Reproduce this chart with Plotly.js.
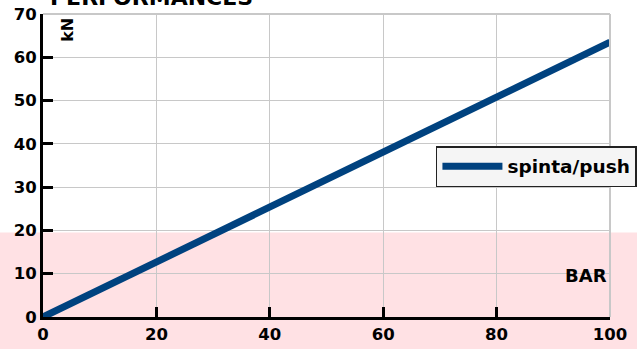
<!DOCTYPE html>
<html><head><meta charset="utf-8">
<script src="https://cdn.plot.ly/plotly-3.0.1.min.js"></script>
<style>html,body{margin:0;padding:0;background:#fff}#c{width:637px;height:349px}</style>
</head><body><div id="c"></div>
<script>
var pressureBar = [0, 100];
var thrustKN = [0, 63.5];
var seriesName = 'spinta/push';
var xTicks = [0, 20, 40, 60, 80, 100];
var yTicks = [0, 10, 20, 30, 40, 50, 60, 70];
var bandTopKN = 19.5;

var F = 'DejaVu Sans, Verdana, sans-serif';
function b(s) { return '<b>' + s + '</b>'; }
var trace = {x: pressureBar, y: thrustKN, mode: 'lines', name: b(seriesName),
  line: {color: '#00427f', width: 7}};
var yFrac = bandTopKN / 70;
var layout = {
  width: 637, height: 349,
  margin: {l: 43, r: 27, t: 14, b: 32, pad: 0, autoexpand: false},
  paper_bgcolor: '#ffffff', plot_bgcolor: 'rgba(0,0,0,0)',
  font: {family: F, color: '#000', size: 16},
  showlegend: true,
  legend: {x: 0.693, y: 0.564, xanchor: 'left', yanchor: 'top', bgcolor: '#f5f5f5',
    bordercolor: '#222', borderwidth: 1.5, itemwidth: 60,
    font: {family: F, size: 18.5, color: '#000'}},
  xaxis: {range: [0, 100], tickvals: xTicks, ticktext: xTicks.map(function (v) { return b(v); }), showgrid: true,
    gridcolor: '#c8c8c8', gridwidth: 1, zeroline: false, showline: true, linecolor: '#000', linewidth: 3,
    ticks: 'inside', ticklen: 10, tickwidth: 3, tickcolor: '#000', automargin: false,
    tickfont: {family: F, size: 16.5, color: '#000'}},
  yaxis: {range: [0, 70], tickvals: yTicks, ticktext: yTicks.map(function (v) { return b(v); }), showgrid: true,
    gridcolor: '#c8c8c8', gridwidth: 1, zeroline: false, showline: true, linecolor: '#000', linewidth: 3,
    ticks: 'inside', ticklen: 10, tickwidth: 3, tickcolor: '#000', automargin: false,
    tickfont: {family: F, size: 16.5, color: '#000'}},
  shapes: [
    {type: 'rect', xref: 'paper', yref: 'paper', x0: -0.2, x1: 1.2, y0: -0.3, y1: yFrac,
      fillcolor: '#ffe1e4', line: {width: 0}, layer: 'below'},
    {type: 'line', xref: 'paper', yref: 'paper', x0: 0, x1: 1, y0: 1, y1: 1,
      line: {color: '#c8c8c8', width: 2}},
    {type: 'line', xref: 'paper', yref: 'paper', x0: 1, x1: 1, y0: 0, y1: 1,
      line: {color: '#c8c8c8', width: 2}}
  ],
  annotations: [
    {text: b('PERFORMANCES'), xref: 'paper', yref: 'paper', x: 0.008, y: 1.0, xanchor: 'left', yanchor: 'bottom',
      yshift: 2, showarrow: false, font: {family: F, size: 22, color: '#000'}},
    {text: b('kN'), xref: 'paper', yref: 'paper', x: 0.042, y: 0.947, xanchor: 'center', yanchor: 'middle',
      textangle: -90, showarrow: false, font: {family: F, size: 16, color: '#000'}},
    {text: b('BAR'), xref: 'paper', yref: 'paper', x: 0.957, y: 0.136, xanchor: 'center', yanchor: 'middle',
      showarrow: false, font: {family: F, size: 18, color: '#000'}}
  ]
};
Plotly.newPlot('c', [trace], layout, {displayModeBar: false, staticPlot: true});
</script></body></html>
